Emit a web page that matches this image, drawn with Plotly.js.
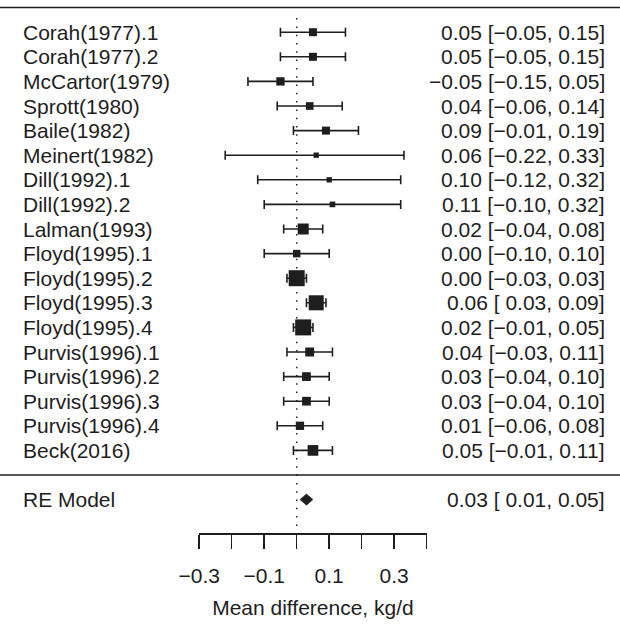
<!DOCTYPE html>
<html>
<head>
<meta charset="utf-8">
<script src="https://cdn.plot.ly/plotly-3.0.1.min.js"></script>
<style>html,body{margin:0;padding:0;background:#fff;}#chart{width:620px;height:625px;}</style>
</head>
<body>
<div id="chart"></div>
<script>
// ---- data ----
const studies = ["Corah(1977).1","Corah(1977).2","McCartor(1979)","Sprott(1980)","Baile(1982)","Meinert(1982)","Dill(1992).1","Dill(1992).2","Lalman(1993)","Floyd(1995).1","Floyd(1995).2","Floyd(1995).3","Floyd(1995).4","Purvis(1996).1","Purvis(1996).2","Purvis(1996).3","Purvis(1996).4","Beck(2016)"];
const estimate = [0.05,0.05,-0.05,0.04,0.09,0.06,0.10,0.11,0.02,0.00,0.00,0.06,0.02,0.04,0.03,0.03,0.01,0.05];
const ciLower = [-0.05,-0.05,-0.15,-0.06,-0.01,-0.22,-0.12,-0.10,-0.04,-0.10,-0.03,0.03,-0.01,-0.03,-0.04,-0.04,-0.06,-0.01];
const ciUpper = [0.15,0.15,0.05,0.14,0.19,0.33,0.32,0.32,0.08,0.10,0.03,0.09,0.05,0.11,0.10,0.10,0.08,0.11];
// relative box weight (0.5 = smallest, 1.5 = largest)
const boxWeight = [0.75,0.75,0.78,0.72,0.75,0.50,0.50,0.53,1.03,0.70,1.50,1.41,1.50,0.84,0.82,0.82,0.78,1.00];
const pooledLabel = "RE Model";
const pooledEstimate = 0.03;
const pooledLower = 0.01;
const pooledUpper = 0.05;
const tickValues = [-0.3,-0.2,-0.1,0.0,0.1,0.2,0.3,0.4];
const tickLabels = ["\u22120.3","","\u22120.1","","0.1","","0.3",""];
const axisTitle = "Mean difference, kg/d";

// ---- styling / layout ----
const FONT = "Liberation Sans, Arial, Helvetica, sans-serif";
const FS = 21;
const INK = "#1e1e1e";
const n = studies.length;
const rows = studies.map((_, i) => n - i);
const fmt = v => (v < 0 ? "\u2212" : "") + Math.abs(v).toFixed(2);
const fmtLow = v => (v < 0 ? "" : " ") + fmt(v);
const ciText = (e, l, u) => fmt(e) + " [" + fmtLow(l) + ", " + fmt(u) + "]";

const traces = [
  {
    type: "scatter", mode: "markers", x: estimate, y: rows,
    marker: { symbol: "square", size: boxWeight.map(w => w * 10.67), color: INK, opacity: 1, line: { width: 0 } },
    error_x: {
      type: "data", symmetric: false,
      array: ciUpper.map((u, i) => u - estimate[i]),
      arrayminus: ciLower.map((l, i) => estimate[i] - l),
      color: INK, thickness: 1.6, width: 4.5
    },
    cliponaxis: false, hoverinfo: "skip", showlegend: false
  },
  {
    type: "scatter", mode: "lines",
    x: [pooledLower, pooledEstimate, pooledUpper, pooledEstimate, pooledLower],
    y: [-1, -1 + 0.23, -1, -1 - 0.23, -1],
    fill: "toself", fillcolor: INK, line: { color: INK, width: 0.5 },
    cliponaxis: false, hoverinfo: "skip", showlegend: false
  }
];

const annotations = [];
studies.forEach((s, i) => {
  annotations.push({ text: s, xref: "paper", x: 21 / 620, xanchor: "left", yref: "y", y: rows[i], yanchor: "middle", showarrow: false, font: { family: FONT, size: FS, color: INK } });
  annotations.push({ text: ciText(estimate[i], ciLower[i], ciUpper[i]), xref: "paper", x: 607 / 620, xanchor: "right", yref: "y", y: rows[i], yanchor: "middle", showarrow: false, font: { family: FONT, size: FS, color: INK } });
});
annotations.push({ text: pooledLabel, xref: "paper", x: 21 / 620, xanchor: "left", yref: "y", y: -1, yanchor: "middle", showarrow: false, font: { family: FONT, size: FS, color: INK } });
annotations.push({ text: ciText(pooledEstimate, pooledLower, pooledUpper), xref: "paper", x: 607 / 620, xanchor: "right", yref: "y", y: -1, yanchor: "middle", showarrow: false, font: { family: FONT, size: FS, color: INK } });

const shapes = [
  { type: "line", xref: "paper", x0: 0, x1: 1, yref: "y", y0: n + 1, y1: n + 1, line: { color: INK, width: 1.5 } },
  { type: "line", xref: "paper", x0: 0, x1: 1, yref: "y", y0: 0, y1: 0, line: { color: INK, width: 1.5 } },
  { type: "line", xref: "x", x0: 0, x1: 0, yref: "y", y0: -2.07, y1: n + 0.78, line: { color: INK, width: 1.5, dash: "1.5px,6.8px" }, layer: "below" }
];

const layout = {
  width: 620, height: 625,
  margin: { l: 0, r: 0, t: 0, b: 0, pad: 0 },
  paper_bgcolor: "#fff", plot_bgcolor: "#fff",
  showlegend: false,
  font: { family: FONT, size: FS, color: INK },
  xaxis: {
    range: [-0.3, 0.4], domain: [199.2 / 620, 426.7 / 620],
    anchor: "free", position: (625 - 533.3) / 625,
    showline: true, linecolor: INK, linewidth: 1.5,
    ticks: "outside", ticklen: 14, tickwidth: 1.5, tickcolor: INK,
    tickmode: "array", tickvals: tickValues, ticktext: tickLabels,
    ticklabelstandoff: 9,
    tickfont: { family: FONT, size: FS, color: INK },
    showgrid: false, zeroline: false, fixedrange: true,
    title: { text: axisTitle, font: { family: FONT, size: FS, color: INK }, standoff: 14 }
  },
  yaxis: {
    range: [(475 - 625) / 24.6, 475 / 24.6], domain: [0, 1],
    visible: false, showgrid: false, zeroline: false, fixedrange: true
  },
  shapes: shapes,
  annotations: annotations
};

Plotly.newPlot("chart", traces, layout, { staticPlot: true, displayModeBar: false });
</script>
</body>
</html>
